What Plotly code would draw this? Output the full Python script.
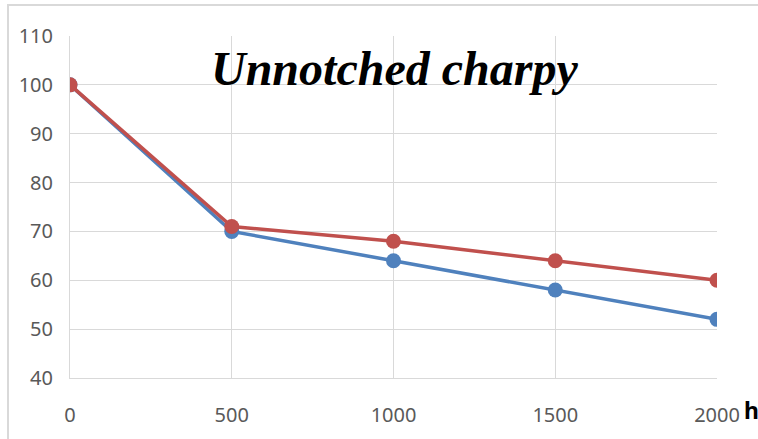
import plotly.graph_objects as go

hours = [0, 500, 1000, 1500, 2000]
blue_values = [100, 70, 64, 58, 52]
red_values = [100, 71, 68, 64, 60]
x_ticks = [0, 500, 1000, 1500, 2000]
y_ticks = [40, 50, 60, 70, 80, 90, 100, 110]

fig = go.Figure()
fig.add_trace(go.Scatter(x=hours, y=blue_values, mode='lines+markers', name='blue',
                         line=dict(color='#4F81BD', width=3.5), marker=dict(size=15, color='#4F81BD')))
fig.add_trace(go.Scatter(x=hours, y=red_values, mode='lines+markers', name='red',
                         line=dict(color='#C0504D', width=3.5), marker=dict(size=15, color='#C0504D')))

grid = '#D9D9D9'
tick_font = dict(family='Noto Sans', size=20, color='#595959')

fig.update_layout(
    width=758, height=439,
    margin=dict(l=70, r=41, t=36, b=61),
    paper_bgcolor='white', plot_bgcolor='white',
    showlegend=False,
    xaxis=dict(range=[0, 2000], tickvals=x_ticks, showgrid=True, gridcolor=grid, gridwidth=1,
               showline=True, linecolor=grid, linewidth=1, zeroline=False, automargin=False,
               ticks='outside', ticklen=19, tickcolor='rgba(0,0,0,0)', tickfont=tick_font),
    yaxis=dict(range=[40, 110], tickvals=y_ticks, showgrid=True, gridcolor=grid, gridwidth=1,
               showline=True, linecolor=grid, linewidth=1, zeroline=False, automargin=False,
               ticks='outside', ticklen=12, tickcolor='rgba(0,0,0,0)', tickfont=tick_font),
)

# chart title drawn inside the plot
fig.add_annotation(text='<b><i>Unnotched charpy</i></b>', xref='paper', yref='paper',
                   x=0.502, y=0.906, xanchor='center', yanchor='middle', showarrow=False,
                   font=dict(family='Liberation Serif', size=48, color='black'))
# unit label on the x axis
fig.add_annotation(text='<b>h</b>', xref='paper', yref='paper', x=1.053, y=-0.094,
                   xanchor='center', yanchor='middle', showarrow=False,
                   font=dict(family='Noto Sans', size=23, color='black'))

# outer chart border
fig.add_shape(type='rect', xref='paper', yref='paper', x0=-0.0958, x1=1.2, y0=-0.3, y1=1.0906,
              line=dict(color=grid, width=2), layer='below')

# drop the default body margin so the figure sits at the window corner
fig.write_html("out.html", config={'displayModeBar': False},
               post_script="document.body.style.margin='0';")
